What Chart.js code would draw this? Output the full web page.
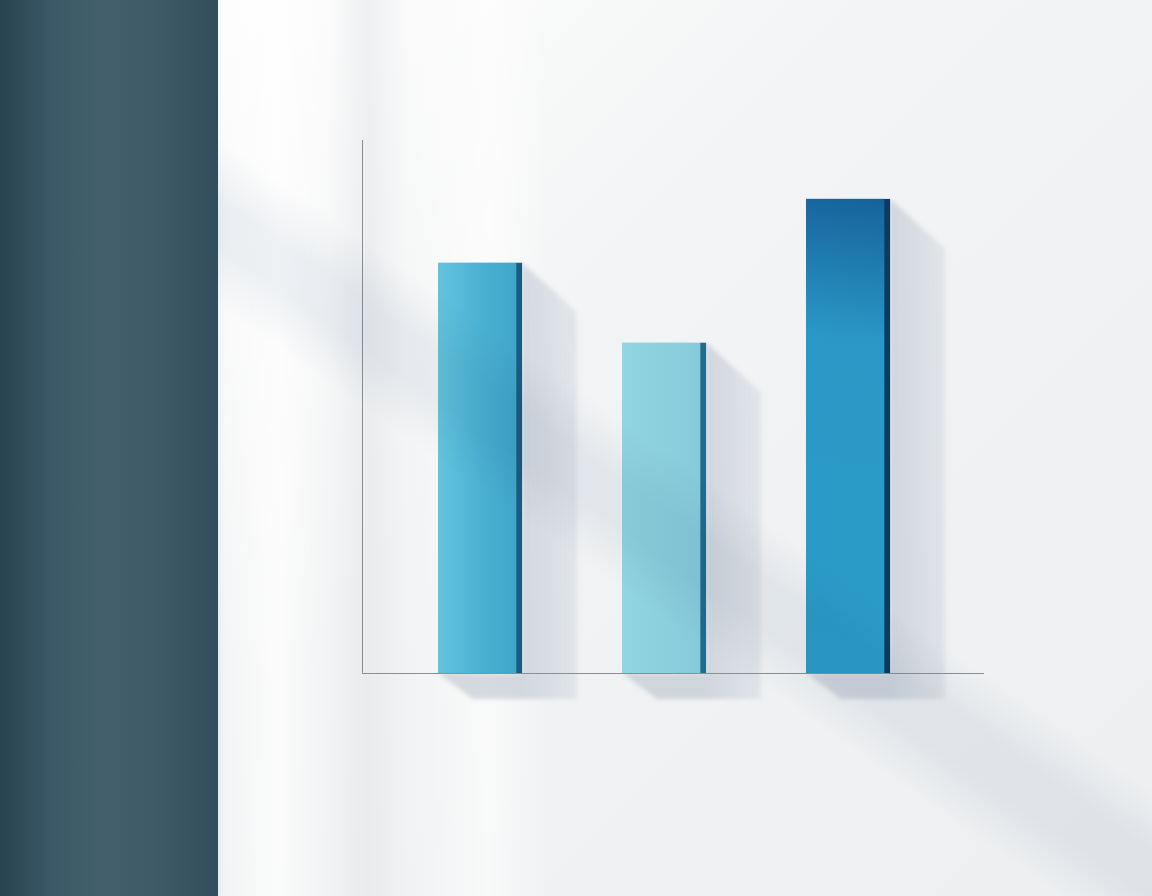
<!DOCTYPE html>
<html>
<head>
<meta charset="utf-8">
<script src="https://cdn.jsdelivr.net/npm/chart.js@4.4.1/dist/chart.umd.min.js"></script>
<style>
  html, body { margin: 0; padding: 0; width: 1152px; height: 896px; overflow: hidden; }
  body {
    position: relative;
    background: #f0f1f2;
  }
  #wall {
    position: absolute; left: 218px; top: 0; width: 934px; height: 896px;
    background:
      linear-gradient(90deg, rgba(255,255,255,0) 0px, rgba(255,255,255,0.7) 60px, rgba(255,255,255,0) 110px,
                      rgba(225,227,230,0.5) 150px, rgba(255,255,255,0) 190px, rgba(255,255,255,0.6) 270px, rgba(255,255,255,0) 330px),
      linear-gradient(135deg, rgba(255,255,255,0.9) 0%, rgba(244,245,246,0.6) 40%, rgba(236,238,240,0.8) 100%);
  }
  #beams {
    position: absolute; left: 218px; top: 0; width: 934px; height: 896px; pointer-events: none; z-index: 2;
    background:
      linear-gradient(35deg, rgba(0,0,0,0) 38%, rgba(40,80,120,0.07) 42%, rgba(40,80,120,0.07) 45%, rgba(0,0,0,0) 49%);
    mix-blend-mode: multiply;
  }
  #panel {
    position: absolute; left: 0; top: 0; width: 218px; height: 896px;
    background: linear-gradient(90deg, #28424f 0%, #3a5866 22%, #425f6b 45%, #3f5b68 70%, #324d5b 100%);
    box-shadow: 2px 0 6px rgba(0,0,0,0.15);
  }
  #wrap { position: absolute; left: 0; top: 0; width: 1152px; height: 896px; z-index: 1; }
</style>
</head>
<body>
<div id="panel"></div>
<div id="wall"></div>
<div id="wrap"><canvas id="barChart"></canvas></div>
<div id="beams"></div>
<script>
const categories = ['A', 'B', 'C'];
const values = [77, 62, 89];
const yTicks = [0, 100];

const faceStops = [
    [[0, '#64c4de'], [0.5, '#4bb2d3'], [1, '#3da3c9']],
    [[0, '#92d5e2'], [0.5, '#8ccfdd'], [1, '#86cadb']],
    [[0, '#16629a'], [0.3, '#2a98c6'], [1, '#2a9dc8']]
];
const edgeColors = ['#1d5a82', '#236a8c', '#0f3a60'];

function barFill(context) {
    const chart = context.chart;
    const i = context.dataIndex;
    const area = chart.chartArea;
    if (!area) return faceStops[i][1][1];
    const x = chart.scales.x.getPixelForValue(i);
    const top = chart.scales.y.getPixelForValue(values[i]);
    let g;
    if (i === 2) {
        g = chart.ctx.createLinearGradient(x + 40, top, x - 20, area.bottom);
    } else {
        g = chart.ctx.createLinearGradient(x - 42, 0, x + 42, 0);
    }
    faceStops[i].forEach(s => g.addColorStop(s[0], s[1]));
    return g;
}

// soft cast shadows behind the bars + the long axis lines
const shadowPlugin = {
    id: 'shadows',
    beforeDatasetsDraw(chart) {
        const ctx = chart.ctx;
        const area = chart.chartArea;
        const meta = chart.getDatasetMeta(0);
        ctx.save();
        ctx.filter = 'blur(2px)';
        meta.data.forEach(bar => {
            const left = bar.x - bar.width / 2;
            const right = bar.x + bar.width / 2;
            const top = bar.y;
            const bottom = bar.base;
            const g = ctx.createLinearGradient(right, 0, right + 55, 0);
            g.addColorStop(0, 'rgba(150,165,182,0.36)');
            g.addColorStop(1, 'rgba(170,182,196,0.22)');
            ctx.fillStyle = g;
            ctx.beginPath();
            ctx.moveTo(right, top);
            ctx.lineTo(right + 55, top + 50);
            ctx.lineTo(right + 55, bottom + 26);
            ctx.lineTo(left + 35, bottom + 26);
            ctx.lineTo(left, bottom);
            ctx.lineTo(right, bottom);
            ctx.closePath();
            ctx.fill();
        });
        ctx.filter = 'none';
        ctx.strokeStyle = '#8a8f94';
        ctx.lineWidth = 1;
        ctx.beginPath();
        ctx.moveTo(area.left - 26 + 0.5, area.top);
        ctx.lineTo(area.left - 26 + 0.5, area.bottom + 0.5);
        ctx.lineTo(area.right + 44, area.bottom + 0.5);
        ctx.stroke();
        ctx.restore();
    }
};

const ctx = document.getElementById('barChart');
const barChart = new Chart(ctx, {
    type: 'bar',
    data: {
        labels: categories,
        datasets: [{
            data: values,
            backgroundColor: barFill,
            borderColor: edgeColors,
            borderWidth: { top: 0, left: 0, bottom: 0, right: 6 },
            borderSkipped: false,
            barThickness: 84
        }]
    },
    options: {
        responsive: true,
        maintainAspectRatio: false,
        animation: false,
        layout: {
            padding: { left: 388, right: 212, top: 140, bottom: 223 }
        },
        scales: {
            x: { display: false, offset: true },
            y: { display: false, min: yTicks[0], max: yTicks[1] }
        },
        plugins: {
            legend: { display: false },
            tooltip: { enabled: false }
        }
    },
    plugins: [shadowPlugin]
});
</script>
</body>
</html>
